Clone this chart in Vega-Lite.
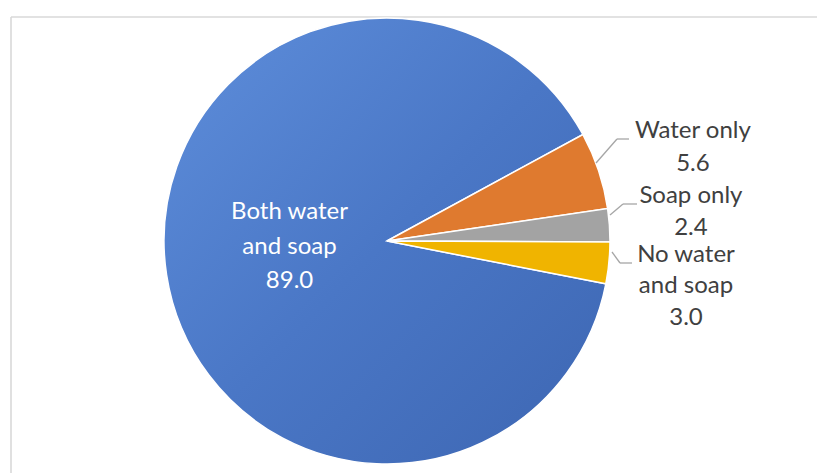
{
  "$schema": "https://vega.github.io/schema/vega-lite/v6.json",
  "width": 817,
  "height": 473,
  "autosize": "none",
  "padding": 0,
  "background": "white",
  "config": {"view": {"stroke": null}},
  "data": {"values": [
    {"Category": "Both water and soap", "Percent": 89.0},
    {"Category": "Water only", "Percent": 5.6},
    {"Category": "Soap only", "Percent": 2.4},
    {"Category": "No water and soap", "Percent": 3.0}
  ]},
  "layer": [
    {
      "data": {"values": [{}]},
      "mark": {"type": "rule", "color": "#D9D9D9", "strokeWidth": 1.6},
      "encoding": {
        "x": {"datum": -376, "type": "quantitative", "scale": {"domain": [-387, 430], "nice": false, "zero": false}, "axis": null},
        "y": {"datum": -224, "type": "quantitative", "scale": {"domain": [-241, 232], "reverse": true, "nice": false, "zero": false}, "axis": null},
        "x2": {"datum": 430}
      }
    },
    {
      "data": {"values": [{}]},
      "mark": {"type": "rule", "color": "#D9D9D9", "strokeWidth": 1.6},
      "encoding": {
        "x": {"datum": -376, "type": "quantitative"},
        "y": {"datum": -224, "type": "quantitative"},
        "y2": {"datum": 232}
      }
    },
    {
      "mark": {"type": "arc", "outerRadius": 223, "stroke": "white", "strokeWidth": 1.5},
      "encoding": {
        "x": {"datum": 0, "type": "quantitative"},
        "y": {"datum": 0, "type": "quantitative"},
        "theta": {"field": "Percent", "type": "quantitative", "stack": true, "scale": {"range": [1.073, 7.356]}},
        "order": {"field": "Category", "type": "ordinal", "sort": "descending"},
        "color": {
          "condition": {
            "test": "datum.Category === 'Both water and soap'",
            "value": {"gradient": "linear", "x1": 0, "y1": 0, "x2": 1, "y2": 1, "stops": [
              {"offset": 0, "color": "#5E8EDB"},
              {"offset": 0.5, "color": "#4A77C6"},
              {"offset": 1, "color": "#3D66B2"}
            ]}
          },
          "field": "Category",
          "type": "nominal",
          "scale": {"domain": ["Both water and soap", "Water only", "Soap only", "No water and soap"], "range": ["#4472C4", "#DF7A2F", "#A3A3A3", "#F0B400"]},
          "legend": null
        }
      }
    },
    {
      "data": {"values": [{}]},
      "mark": {"type": "rule", "color": "#A6A6A6", "strokeWidth": 1.3},
      "encoding": {"x": {"datum": 209, "type": "quantitative"}, "y": {"datum": -78, "type": "quantitative"}, "x2": {"datum": 230}, "y2": {"datum": -102}}
    },
    {
      "data": {"values": [{}]},
      "mark": {"type": "rule", "color": "#A6A6A6", "strokeWidth": 1.3},
      "encoding": {"x": {"datum": 230, "type": "quantitative"}, "y": {"datum": -102, "type": "quantitative"}, "x2": {"datum": 242}, "y2": {"datum": -102}}
    },
    {
      "data": {"values": [{}]},
      "mark": {"type": "rule", "color": "#A6A6A6", "strokeWidth": 1.3},
      "encoding": {"x": {"datum": 223, "type": "quantitative"}, "y": {"datum": -26, "type": "quantitative"}, "x2": {"datum": 236}, "y2": {"datum": -37}}
    },
    {
      "data": {"values": [{}]},
      "mark": {"type": "rule", "color": "#A6A6A6", "strokeWidth": 1.3},
      "encoding": {"x": {"datum": 236, "type": "quantitative"}, "y": {"datum": -37, "type": "quantitative"}, "x2": {"datum": 250}, "y2": {"datum": -37}}
    },
    {
      "data": {"values": [{}]},
      "mark": {"type": "rule", "color": "#A6A6A6", "strokeWidth": 1.3},
      "encoding": {"x": {"datum": 225, "type": "quantitative"}, "y": {"datum": 11, "type": "quantitative"}, "x2": {"datum": 233}, "y2": {"datum": 22}}
    },
    {
      "data": {"values": [{}]},
      "mark": {"type": "rule", "color": "#A6A6A6", "strokeWidth": 1.3},
      "encoding": {"x": {"datum": 233, "type": "quantitative"}, "y": {"datum": 22, "type": "quantitative"}, "x2": {"datum": 245}, "y2": {"datum": 22}}
    },
    {
      "mark": {"type": "text", "radius": 101.7, "thetaOffset": 0.4409, "font": "Lato", "fontSize": 24, "color": "white", "lineHeight": 34.5, "lineBreak": "\n", "align": "center", "baseline": "middle",
        "text": {"expr": "datum.Category === 'Both water and soap' ? 'Both water\\nand soap\\n' + format(datum.Percent, '.1f') : ''"}},
      "encoding": {
        "x": {"datum": 0, "type": "quantitative"},
        "y": {"datum": 0, "type": "quantitative"},
        "theta": {"field": "Percent", "type": "quantitative", "stack": true},
        "order": {"field": "Category", "type": "ordinal", "sort": "descending"}
      }
    },
    {
      "mark": {"type": "text", "radius": 325.0, "thetaOffset": -0.0222, "font": "Lato", "fontSize": 24, "color": "#404040", "lineHeight": 32.5, "lineBreak": "\n", "align": "center", "baseline": "middle",
        "text": {"expr": "datum.Category === 'Water only' ? 'Water only\\n' + format(datum.Percent, '.1f') : ''"}},
      "encoding": {
        "x": {"datum": 0, "type": "quantitative"},
        "y": {"datum": 0, "type": "quantitative"},
        "theta": {"field": "Percent", "type": "quantitative", "stack": true},
        "order": {"field": "Category", "type": "ordinal", "sort": "descending"}
      }
    },
    {
      "mark": {"type": "text", "radius": 307.2, "thetaOffset": -0.0752, "font": "Lato", "fontSize": 24, "color": "#404040", "lineHeight": 31.7, "lineBreak": "\n", "align": "center", "baseline": "middle",
        "text": {"expr": "datum.Category === 'Soap only' ? 'Soap only\\n' + format(datum.Percent, '.1f') : ''"}},
      "encoding": {
        "x": {"datum": 0, "type": "quantitative"},
        "y": {"datum": 0, "type": "quantitative"},
        "theta": {"field": "Percent", "type": "quantitative", "stack": true},
        "order": {"field": "Category", "type": "ordinal", "sort": "descending"}
      }
    },
    {
      "mark": {"type": "text", "radius": 299.3, "thetaOffset": -0.0534, "font": "Lato", "fontSize": 24, "color": "#404040", "lineHeight": 31.7, "lineBreak": "\n", "align": "center", "baseline": "middle",
        "text": {"expr": "datum.Category === 'No water and soap' ? 'No water\\nand soap\\n' + format(datum.Percent, '.1f') : ''"}},
      "encoding": {
        "x": {"datum": 0, "type": "quantitative"},
        "y": {"datum": 0, "type": "quantitative"},
        "theta": {"field": "Percent", "type": "quantitative", "stack": true},
        "order": {"field": "Category", "type": "ordinal", "sort": "descending"}
      }
    }
  ]
}
